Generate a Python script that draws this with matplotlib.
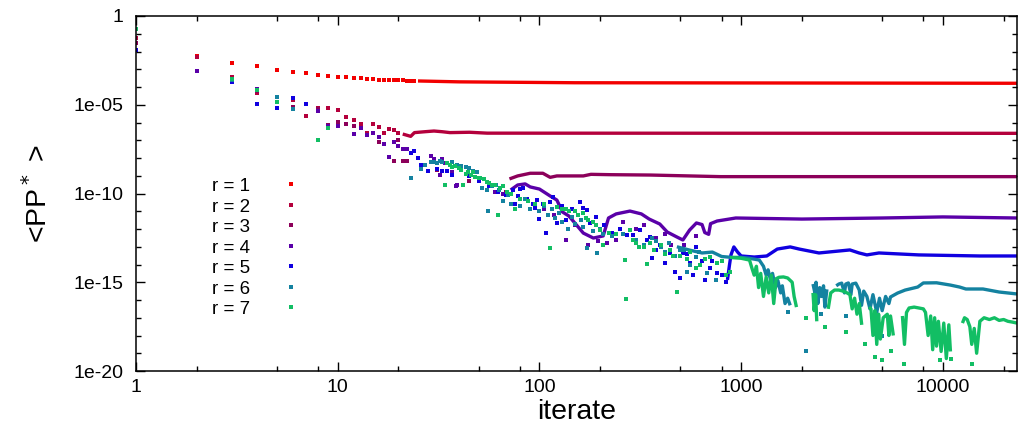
import numpy as np
import matplotlib
matplotlib.use("Agg")
import matplotlib.pyplot as plt
from matplotlib.ticker import LogLocator, FixedLocator, NullFormatter

plt.rcParams['font.family'] = ['Liberation Sans', 'DejaVu Sans']

# <PP*> per iterate, stored as log10 values.
# *_px/*_pe : isolated points, *_lx/*_le : dense runs (nan breaks a run)
r1_px = [2, 3, 4, 5, 6, 7, 8, 9, 10, 11, 12, 13, 14, 15, 16, 17, 18, 19, 20, 21, 22, 23, 24]
r1_pe = [-2.25, -2.65, -2.82, -3.04, -3.15, -3.21, -3.32, -3.38, -3.44, -3.46, -3.49, -3.52,
         -3.55, -3.57, -3.58, -3.59, -3.60, -3.61, -3.62, -3.63, -3.64, -3.65, -3.66]
r1_lx = [25, 40, 150, 23300]
r1_le = [-3.66, -3.71, -3.76, -3.79]

r2_px = [1, 2, 3, 4, 6, 7, 8, 9, 10, 11, 12, 13, 14, 15, 16, 17, 18, 19, 20]
r2_pe = [-1.24, -2.31, -3.44, -4.34, -4.73, -5.63, -5.18, -5.18, -5.30, -5.69, -5.86, -6.08,
         -6.59, -6.08, -6.25, -6.59, -6.37, -6.42, -6.60]
r2_lx = [21, 23, 24, 27, 30, 33, 36, 45, 55, 23300]
r2_le = [-6.65, -6.78, -6.57, -6.52, -6.48, -6.52, -6.57, -6.55, -6.60, -6.61]

r3_px = [1, 4, 6, 8, 9, 10, 11, 12, 16, 19, 20, 21, 22, 26, 31, 45, 68]
r3_pe = [-1.52, -4.25, -5.13, -5.24, -6.14, -5.97, -6.08, -6.20, -7.10, -8.17, -6.99, -8.17,
         -8.17, -8.50, -8.70, -9.30, -9.92]
r3_lx = [71, 78, 90, 104, 113, 122, 165, 180, 225, 355, 790, 23300]
r3_le = [-9.18, -9.01, -8.86, -8.86, -9.09, -9.01, -9.01, -8.92, -8.94, -8.96, -9.05, -9.05]

r4_px = [2, 4, 8, 9, 10, 12, 13, 14, 15, 16, 17, 18, 19, 20, 21, 22, 29, 30, 32, 33, 34, 37,
         38.5, 39, 60, 66, 105, 118, 135, 150, 175, 195, 215, 240, 260, 300, 330, 380, 420,
         450, 520, 600]
r4_pe = [-3.10, -4.11, -5.35, -6.20, -6.20, -6.65, -6.31, -6.70, -6.59, -6.82, -7.21, -7.94,
         -7.10, -7.32, -7.49, -7.49, -7.89, -8.06, -8.96, -8.06, -8.28, -8.79, -9.58, -9.52,
         -9.90, -10.00, -10.90, -11.20, -12.60, -11.80, -12.90, -12.70, -12.80, -12.60,
         -11.60, -12.00, -11.80, -12.50, -12.30, -12.90, -12.90, -12.40]
r4_lx = [72, 78, 85, 90, 100, 113, 122, 130, 140, 165, 185, 207, 220, 240, 281, 320, 350, 395,
         430, 480, 514, 555, 600, 640, 660, 690, 705, 760, 940, 2000, 5000, 10000, 23300]
r4_le = [-9.80, -9.52, -9.46, -9.63, -9.75, -10.14, -10.37, -11.04, -11.27, -12.23, -12.51,
         -12.39, -11.38, -11.15, -10.99, -11.15, -11.44, -11.72, -12.17, -12.45, -12.62,
         -12.06, -11.66, -11.75, -12.20, -12.30, -11.70, -11.55, -11.38, -11.44, -11.38,
         -11.32, -11.38]

r5_px = [1, 3, 4, 5, 6, 7, 23, 24, 25, 26, 28, 29, 31, 33, 35, 37, 39, 45, 50, 56, 62, 68,
         74, 76, 78, 80, 83, 87, 93, 95, 97, 100, 104, 108, 113, 117, 122, 130, 135, 145, 158,
         165, 172, 178, 190, 210, 230, 250, 273, 290, 314, 340, 355, 363, 380, 395, 420, 445,
         470, 496, 514, 540, 560, 580, 600, 640, 660, 700, 720, 760, 800, 840]
r5_pe = [-1.92, -3.72, -4.96, -5.18, -4.62, -4.96, -7.72, -7.61, -8.00, -8.40, -8.73, -8.23,
         -8.62, -8.73, -8.73, -8.96, -8.45, -9.00, -9.30, -9.60, -9.90, -10.10, -9.80, -10.59,
         -10.14, -9.75, -9.69, -10.31, -10.59, -10.82, -10.37, -11.44, -10.59, -12.23, -10.50,
         -10.20, -11.66, -10.70, -11.50, -10.90, -10.50, -10.80, -10.93, -11.66, -11.30,
         -11.80, -12.20, -12.00, -12.34, -12.34, -12.06, -12.60, -12.45, -13.63, -13.20,
         -12.90, -13.90, -13.35, -14.40, -14.76, -13.35, -13.40, -13.90, -14.60, -13.00,
         -13.80, -14.90, -14.20, -13.80, -14.50, -14.60, -15.00]
r5_lx = [855, 875, 890, 920, 960, 1000, 1160, 1340, 1510, 1750, 1940, 2430, 3460, 3840, 4200,
         4820, 7600, 15250, 23300]
r5_le = [-14.87, -14.03, -13.46, -13.01, -13.30, -13.52, -13.58, -13.52, -13.13, -13.01,
         -13.13, -13.35, -13.18, -13.35, -13.46, -13.35, -13.46, -13.52, -13.52]

r6_px = [3, 5, 6, 23, 26, 27, 29, 30, 31, 32, 33, 35, 37, 39, 41, 43, 45, 47, 49, 52, 53, 55,
         55.5, 58, 61, 63, 66, 70, 72, 80, 85, 90, 95, 100, 105, 110, 115, 120, 125, 130, 139,
         145, 150, 160, 165, 172, 185, 193, 200, 207, 230, 260, 300, 330, 360, 380, 400, 420,
         440, 470, 500, 520, 540, 560, 600, 620, 680, 750, 1700, 2100, 2500, 3300, 4500, 5000]
r6_pe = [-3.61, -4.56, -5.24, -9.13, -8.60, -8.40, -8.23, -8.23, -8.28, -8.17, -8.23, -8.28,
         -8.23, -8.39, -8.45, -8.50, -8.56, -8.73, -8.79, -9.70, -9.20, -9.80, -10.99, -9.60,
         -9.50, -9.80, -10.40, -10.10, -10.60, -10.70, -10.30, -10.90, -10.60, -11.00, -10.70,
         -11.20, -10.90, -11.40, -11.10, -11.60, -12.00, -11.30, -11.70, -11.50, -11.90,
         -13.07, -12.10, -13.35, -12.00, -12.30, -12.40, -12.30, -12.60, -12.90, -12.50,
         -12.70, -13.00, -13.30, -12.80, -13.50, -13.20, -13.20, -14.40, -14.00, -13.60,
         -13.30, -14.50, -14.90, -16.70, -18.90, -16.80, -16.90, -17.70, -18.00]
r6_lx = [480, 560, 640, 720, 800, 900, 1000, 1100, 1230, 1290, 1330, 1360, 1400, 1430, 1480,
         1520, 1570, 1600, 1650, 1700, 1750, np.nan,
         2270, 2320, 2350, 2400, 2450, 2500, 2560, 2600, 2660, np.nan,
         2960, 3050, 3150, 3250, 3300, 3400, 3500, 3550, 3700, 3850, 3950, 4050, 4200, 4350,
         4500, 4700, 4850, 5000, 5200, 5400, 5500, 5960, 6500, 7500, 8000, 9300, 10900, 12100,
         13000, 15800, 19000, 23300]
r6_le = [-13.00, -13.20, -13.35, -13.30, -13.55, -13.60, -13.60, -13.65, -13.75, -14.10,
         -14.60, -14.30, -14.90, -14.50, -15.30, -14.90, -15.60, -15.20, -16.20, -15.90,
         -16.30, np.nan,
         -15.10, -15.60, -15.00, -16.20, -15.30, -15.80, -15.20, -16.40, -15.40, np.nan,
         -15.20, -15.10, -15.05, -15.60, -15.10, -15.04, -15.70, -15.10, -15.05, -15.44,
         -16.30, -15.50, -15.80, -16.50, -15.70, -16.70, -15.90, -16.60, -15.80, -16.20,
         -15.83, -15.61, -15.44, -15.27, -15.04, -15.03, -15.16, -15.27, -15.38, -15.38,
         -15.55, -15.66]

r7_px = [1, 3, 4, 5, 8, 9, 34, 35, 36, 37, 38, 40, 41, 42, 43, 44, 46, 47, 48, 50, 51, 53, 55,
         56, 58, 60, 62, 64, 66, 69, 72, 76, 80, 88, 95, 105, 113, 122, 130, 135, 140, 150,
         155, 165, 170, 175, 185, 190, 200, 207, 220, 240, 265, 270, 280, 290, 300, 310, 330,
         342, 355, 370, 400, 420, 445, 460, 480, 500, 540, 560, 600, 623, 660, 700, 760, 800,
         840, 880, 2100, 2600, 3300, 4100, 4600, 5000, 5500, 6400, 9700, 11000, 14000]
r7_pe = [-0.73, -3.55, -4.17, -4.85, -6.99, -6.31, -9.52, -8.30, -8.40, -8.50, -8.45, -8.56,
         -8.70, -9.52, -8.90, -8.80, -8.95, -8.80, -9.05, -9.10, -9.13, -9.20, -9.35, -9.40,
         -9.50, -9.50, -11.21, -9.70, -9.60, -9.92, -10.00, -10.87, -10.30, -10.40, -10.60,
         -10.60, -13.07, -10.76, -10.90, -10.90, -11.00, -11.00, -11.20, -11.10, -11.40,
         -11.50, -11.60, -11.80, -12.06, -12.90, -12.20, -12.30, -13.75, -15.94, -12.06,
         -12.60, -12.80, -13.01, -13.00, -13.97, -12.80, -13.20, -12.90, -13.40, -13.20,
         -13.50, -15.55, -13.50, -13.70, -13.30, -14.20, -14.00, -13.70, -13.60, -13.90,
         -13.80, -14.60, -14.40, -17.00, -17.50, -17.80, -18.50, -19.20, -19.40, -18.90,
         -19.60, -19.40, -19.30, -19.60]
r7_lx = [880, 1000, 1100, 1130, 1160, 1190, 1220, 1250, 1290, 1330, 1370, 1410, 1450, 1490,
         1540, 1620, 1700, 1790, 1830, 1880, np.nan,
         2270, 2300, 2340, 2370, np.nan,
         2700, 2780, 2900, 3050, 3200, 3350, 3460, 3550, 3650, 3750, 3850, 3960, np.nan,
         4300, 4400, 4500, 4600, 4700, 4800, 4900, 5060, 5300, 5400, 5500, 5680, np.nan,
         6300, 6450, 6600, 6800, 7200, 7600, 8000, 8200, 8450, 8700, 8900, 9100, 9300, 9500,
         9800, 10100, 10400, 10700, 10900, np.nan,
         12500, 12800, 13200, 13600, 13900, 14300, 14700, 15250, 16000, 17000, 18000, 19000,
         20000, 21000, 22000, 23300]
r7_le = [-13.60, -13.65, -13.75, -14.20, -14.60, -14.10, -15.30, -14.50, -15.80, -14.70,
         -15.60, -14.60, -16.20, -14.80, -14.72, -14.70, -14.76, -15.00, -15.80, -16.40, np.nan,
         -15.60, -16.60, -15.70, -17.20, np.nan,
         -16.50, -15.60, -15.44, -15.44, -15.50, -15.60, -15.70, -16.50, -15.90, -16.80,
         -16.20, -17.40, np.nan,
         -16.40, -16.50, -18.00, -16.60, -18.50, -16.80, -18.20, -17.00, -16.80, -18.00,
         -16.90, -18.00, np.nan,
         -16.90, -18.50, -16.70, -16.45, -16.40, -16.45, -16.50, -16.70, -18.00, -16.90,
         -18.80, -17.00, -18.60, -17.20, -18.90, -17.30, -19.30, -17.40, -18.90, np.nan,
         -17.30, -17.00, -17.10, -17.50, -18.50, -17.60, -19.00, -17.20, -17.00, -17.10,
         -17.00, -17.15, -17.10, -17.20, -17.24, -17.30]

labels = ['r = 1', 'r = 2', 'r = 3', 'r = 4', 'r = 5', 'r = 6', 'r = 7']
colors = ['#f20000', '#b4003c', '#8c005a', '#5a00a8', '#1000e0', '#1482a0', '#12be64']

series = [(r1_px, r1_pe, r1_lx, r1_le), (r2_px, r2_pe, r2_lx, r2_le),
          (r3_px, r3_pe, r3_lx, r3_le), (r4_px, r4_pe, r4_lx, r4_le),
          (r5_px, r5_pe, r5_lx, r5_le), (r6_px, r6_pe, r6_lx, r6_le),
          (r7_px, r7_pe, r7_lx, r7_le)]

fig = plt.figure(figsize=(10.18, 4.34), dpi=100)
ax = fig.add_axes([136 / 1018, 63 / 434, 881 / 1018, 355 / 434])

for (px, pe, lx, le), lab, c in zip(series, labels, colors):
    ax.plot(px, np.power(10.0, pe), ls='none', marker='s', ms=2.3, mew=0, color=c, label=lab)
    ax.plot(lx, np.power(10.0, le), ls='-', lw=2.4, color=c, solid_capstyle='butt')

ax.set_xscale('log')
ax.set_yscale('log')
ax.set_xlim(1, 23300)
ax.set_ylim(1e-20, 1)

ax.xaxis.set_major_locator(FixedLocator([1, 10, 100, 1000, 10000]))
ax.xaxis.set_minor_locator(LogLocator(base=10, subs=(2, 5, 8), numticks=20))
ax.xaxis.set_minor_formatter(NullFormatter())
ax.set_xticklabels(['1', '10', '100', '1000', '10000'])

ax.yaxis.set_major_locator(FixedLocator([1, 1e-5, 1e-10, 1e-15, 1e-20]))
ax.yaxis.set_minor_locator(FixedLocator([10.0 ** -k for k in range(1, 20)]))
ax.yaxis.set_minor_formatter(NullFormatter())
ax.set_yticklabels(['1', '1e-05', '1e-10', '1e-15', '1e-20'])

ax.tick_params(which='both', direction='in', top=True, right=True, labelsize=14, colors='black')
ax.tick_params(which='major', length=6.5, width=1.0)
ax.tick_params(which='minor', length=3.6, width=1.0)
ax.tick_params(axis='x', which='major', pad=6)
ax.tick_params(axis='y', which='major', pad=9)
for s in ax.spines.values():
    s.set_linewidth(1.1)

ax.set_xlabel('iterate', fontsize=20.5, labelpad=2)
ax.set_ylabel('<PP$^*$ >', fontsize=20.5, labelpad=15)

ax.legend(loc='upper left', bbox_to_anchor=(0.086, 0.544), frameon=False, markerfirst=False,
          numpoints=1, handlelength=2.0, handletextpad=1.2, labelspacing=0.18,
          borderpad=0, borderaxespad=0, fontsize=13.5)

fig.savefig('out.png', dpi=100)
